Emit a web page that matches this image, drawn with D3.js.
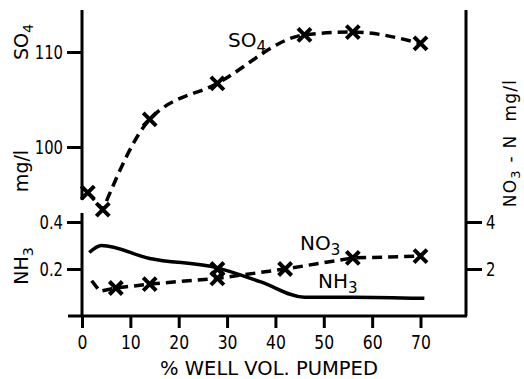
<!DOCTYPE html>
<html><head><meta charset="utf-8">
<script src="https://cdn.jsdelivr.net/npm/d3@7"></script>
<style>
html,body{margin:0;padding:0;background:#fff;}
svg text{font-family:"DejaVu Sans",sans-serif;fill:#000;white-space:pre;}
</style></head>
<body><svg id="c" width="524" height="379"></svg>
<script>
// ---- data ----
const xTicks = [0, 10, 20, 30, 40, 50, 60, 70];
const so4Ticks = [100, 110];
const nh3Ticks = [0.2, 0.4];
const no3Ticks = [2, 4];

const so4X = [1.2, 4.3, 14, 28, 46, 56, 70];
const so4Y = [95.2, 93.4, 102.9, 106.7, 111.8, 112.1, 110.9];

const no3X = [2, 3.7, 7, 14, 28, 42, 56, 70];
const no3Y = [1.5, 1.05, 1.19, 1.36, 1.6, 2.0, 2.47, 2.55];
const no3MarkFrom = 2; // first sampled point with marker
const no3DupX = [28];
const no3DupY = [2.0];

const nh3X = [1.5, 4, 14, 28, 37, 46, 56, 70.8];
const nh3Y = [0.27, 0.30, 0.245, 0.205, 0.145, 0.08, 0.08, 0.075];

// ---- scales ----
const svg = d3.select("#c");
const x = d3.scaleLinear().domain([0, 70]).range([82, 420.5]);
const ySO4 = d3.scaleLinear().domain([100, 110]).range([147, 52]);
const yNH3 = d3.scaleLinear().domain([0, 0.4]).range([316, 222]);
const yNO3 = d3.scaleLinear().domain([0, 4]).range([316, 222]);

const SW = 3;
const NARROW = 0.78;
// axis lines
const ax = svg.append("g").attr("stroke", "#000").attr("stroke-width", SW).attr("fill", "none");
ax.append("line").attr("x1", 68).attr("x2", 467).attr("y1", 316).attr("y2", 316);
ax.append("line").attr("x1", 82).attr("x2", 82).attr("y1", 10).attr("y2", 200);
ax.append("line").attr("x1", 82).attr("x2", 82).attr("y1", 213).attr("y2", 316);
ax.append("line").attr("x1", 466).attr("x2", 466).attr("y1", 10).attr("y2", 316);

function styleAxis(g, size) {
  g.select(".domain").remove();
  g.selectAll(".tick line").attr("stroke", "#000").attr("stroke-width", SW);
  g.selectAll(".tick text").attr("font-size", size).attr("fill", "#000")
    .each(function () {
      const t = d3.select(this);
      const xx = +t.attr("x") || 0;
      t.attr("x", xx / NARROW).attr("transform", `scale(${NARROW},1)`);
    });
}

svg.append("g").attr("transform", "translate(82,0)")
  .call(d3.axisLeft(ySO4).tickValues(so4Ticks).tickSize(15).tickPadding(4).tickFormat(d3.format("d")))
  .call(g => styleAxis(g, 19));
svg.append("g").attr("transform", "translate(82,0)")
  .call(d3.axisLeft(yNH3).tickValues(nh3Ticks).tickSize(15).tickPadding(4).tickFormat(d3.format(".1f")))
  .call(g => styleAxis(g, 19));
svg.append("g").attr("transform", "translate(466,0)")
  .call(d3.axisRight(yNO3).tickValues(no3Ticks).tickSize(16).tickPadding(4).tickFormat(d3.format("d")))
  .call(g => styleAxis(g, 19));
svg.append("g").attr("transform", "translate(0,316)")
  .call(d3.axisBottom(x).tickValues(xTicks).tickSize(12).tickPadding(7).tickFormat(d3.format("d")))
  .call(g => styleAxis(g, 20));

// ---- lines ----
const so4Pts = so4X.map((d, i) => [x(d), ySO4(so4Y[i])]);
const no3Pts = no3X.map((d, i) => [x(d), yNO3(no3Y[i])]);
const nh3Pts = nh3X.map((d, i) => [x(d), yNH3(nh3Y[i])]);

// SO4: straight drop to the minimum, then smooth rise
const so4Smooth = d3.line().curve(d3.curveMonotoneX)(so4Pts.slice(1));
const so4D = `M${so4Pts[0][0]},${so4Pts[0][1]}L` + so4Smooth.slice(1);
svg.append("path").attr("d", so4D)
  .attr("fill", "none").attr("stroke", "#000").attr("stroke-width", 3.5).attr("stroke-dasharray", "10,6");
svg.append("path").attr("d", d3.line()(no3Pts))
  .attr("fill", "none").attr("stroke", "#000").attr("stroke-width", 3.5).attr("stroke-dasharray", "10,6");
svg.append("path").attr("d", d3.line().curve(d3.curveMonotoneX)(nh3Pts))
  .attr("fill", "none").attr("stroke", "#000").attr("stroke-width", 3.5);

// ---- markers ----
const markPts = so4Pts.concat(no3Pts.slice(no3MarkFrom))
  .concat(no3DupX.map((d, i) => [x(d), yNO3(no3DupY[i])]));
svg.append("g").selectAll("path").data(markPts).join("path")
  .attr("transform", d => `translate(${d[0]},${d[1]})`)
  .attr("d", "M-6.5,-6.5L6.5,6.5M-6.5,6.5L6.5,-6.5")
  .attr("stroke", "#000").attr("stroke-width", 4).attr("fill", "none");

// ---- labels ----
function chem(g, base, sub, tf, size, anchor) {
  const t = g.append("text").attr("transform", tf).attr("font-size", size);
  if (anchor) t.attr("text-anchor", anchor);
  t.append("tspan").text(base);
  t.append("tspan").attr("dy", 5).attr("font-size", size * 0.75).text(sub);
  return t;
}
chem(svg, "SO", "4", "translate(228,47)", 20);
chem(svg, "NO", "3", "translate(300,250)", 20);
chem(svg, "NH", "3", "translate(318,288)", 20);

chem(svg, "SO", "4", "translate(28,42) rotate(-90)", 19, "middle");
svg.append("text").attr("transform", "translate(28,171) rotate(-90)").attr("text-anchor", "middle")
  .attr("font-size", 19).text("mg/l");
chem(svg, "NH", "3", "translate(28,266) rotate(-90)", 19, "middle");

const rt = svg.append("text").attr("transform", "translate(516,143) rotate(-90)")
  .attr("text-anchor", "middle").attr("font-size", 17).attr("letter-spacing", 1.2);
rt.append("tspan").text("NO");
rt.append("tspan").attr("dy", 4).attr("font-size", 13).text("3");
rt.append("tspan").attr("dy", -4).text(" - N  mg/l");

svg.append("text").attr("x", 269).attr("y", 375).attr("text-anchor", "middle")
  .attr("font-size", 19.5).text("% WELL VOL. PUMPED");
</script></body></html>
